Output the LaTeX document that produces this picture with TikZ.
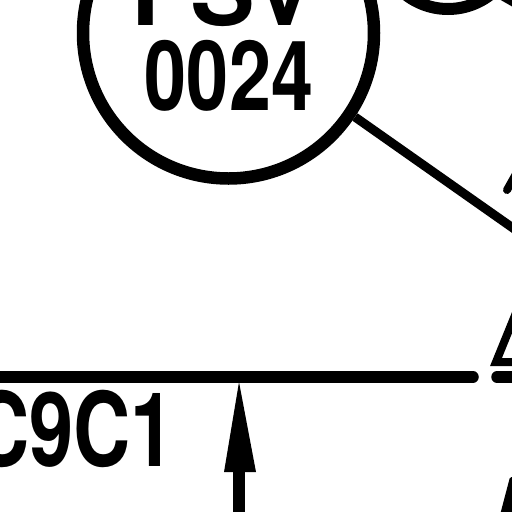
\documentclass[tikz,border=0pt]{standalone}
\usepackage{fontspec}
\setmainfont{TeX Gyre Heros}
\tikzset{
  tagtext/.style={inner sep=0pt,font=\bfseries\fontsize{97}{97}\selectfont},
  pipeline/.style={draw=black,line width=11.5pt,line cap=round}
}
\begin{document}
\begin{tikzpicture}[x=1pt,y=-1pt,line cap=butt]
\useasboundingbox (0,0) rectangle (512,512);
\clip (0,0) rectangle (512,512);
% instrument bubble
\node[circle,draw=black,line width=12.5pt,minimum size=291pt,inner sep=0pt] (bubble) at (228.5,33) {};
\node[tagtext,anchor=base west] (tagtop) at (131,25) {FSV};
\node[tagtext,anchor=base,xscale=.78] (tagnum) at (229,110) {0024};
% second bubble fragment
\coordinate (c2) at (448,-60);
\draw[line width=12pt] (c2) circle (69);
\fill (499,-1) -- (513,7) -- (513,-1) -- cycle;
% leader
\coordinate (leadA) at (355,117);
\coordinate (leadB) at (520,233);
\draw[line width=9pt] (leadA) -- (leadB);
% triangle fragments at right
\coordinate (triA) at (520,303);
\coordinate (triB) at (496,362);
\coordinate (triC) at (520,362);
\draw[line width=8pt,line join=miter] (triA) -- (triB) -- (triC);
\coordinate (triD) at (507,190);
\coordinate (triE) at (516,174);
\draw[line width=8pt,line cap=round] (triD) -- (triE);
% line
\coordinate (lineL) at (-10,377);
\coordinate (lineR) at (473,377);
\coordinate (lineR2) at (497,377);
\coordinate (lineE) at (530,377);
\draw[pipeline] (lineL) -- (lineR);
\draw[pipeline] (lineR2) -- (lineE);
% label
\node[tagtext,anchor=base east,xscale=.77,font=\bfseries\fontsize{103}{103}\selectfont] (cnc) at (175,466) {C9C1};
% arrow
\coordinate (arrowTip) at (239,382);
\coordinate (arrowBase) at (239,520);
\draw[line width=12pt] (arrowBase) -- (239,470);
\fill (arrowTip) -- (256,472) -- (224,472) -- cycle;
% lower right wedge
\fill[rounded corners=1.5pt] (510,477) -- (500,515) -- (520,515) -- (520,477) -- cycle;
\end{tikzpicture}
\end{document}
